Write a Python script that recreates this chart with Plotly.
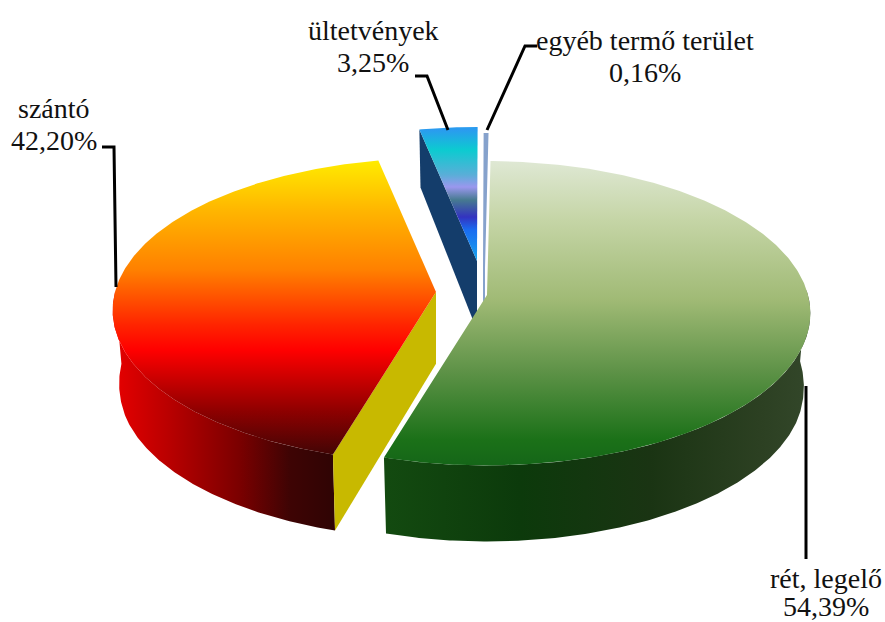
import numpy as np
import plotly.graph_objects as go

categories = ["rét, legelő", "szántó", "ültetvények", "egyéb termő terület"]
values = [54.39, 42.20, 3.25, 0.16]
value_labels = ["54,39%", "42,20%", "3,25%", "0,16%"]

# projection of the tilted pie (screen pixels)
ROT = 0.7
RX, RY, K = 321, 150, 0.12
BOTTOM_SCALE = 0.98
FONT = "Liberation Serif"
FS = 28

apex = {0: (487, 295), 1: (436, 292), 2: (477, 261), 3: (484, 268)}

top_grad = {
    0: [(158, "#e0e9d6"), (220, "#c5d5a6"), (300, "#a0ba75"), (370, "#5f9348"), (440, "#1b7118"), (465, "#156618")],
    1: [(160, "#ffec00"), (210, "#ffb600"), (270, "#ff8000"), (325, "#ff2400"), (350, "#ff0000"), (410, "#900000"), (458, "#3c0505")],
    2: [(130, "#2a9bef"), (150, "#0ccbd0"), (175, "#5aaed8"), (187, "#9a97ee"), (200, "#467a90"), (217, "#3333c0"), (230, "#1a6cf0"), (258, "#18a0ee")],
}
wall_grad = {
    0: [(385, "#134a10"), (520, "#0c3a0b"), (650, "#1a3413"), (760, "#2c4022"), (811, "#33472a")],
    1: [(112, "#e80000"), (170, "#b80000"), (240, "#7a0000"), (290, "#3e0404"), (332, "#300404")],
}
CUT_COLOR = {1: "#c8b900", 2: "#143d6b"}
SLIVER = "#86a2cc"


def rim(i, a0, a1):
    th = np.radians(np.arange(a0, a1, 0.5).tolist() + [a1])
    u, v = np.sin(th), -np.cos(th)
    s = 1 / (1 - K * v)
    return apex[i][0] + RX * u * s, apex[i][1] + RY * v * s


def depth(y):
    return np.minimum(76.0, 58 + (np.asarray(y, float) - 130) * 0.085)


def lower(i, x, y):
    cx = apex[i][0]
    return cx + (np.asarray(x) - cx) * BOTTOM_SCALE, np.asarray(y) + depth(y)


def make_grad(stops, kind):
    lo, hi = stops[0][0], stops[-1][0]
    return dict(type=kind, start=lo, stop=hi,
                colorscale=[[(p - lo) / (hi - lo), c] for p, c in stops])


def poly(x, y, color=None, gradient=None):
    kw = dict(x=list(x), y=list(y), mode="lines", fill="toself", line=dict(width=0),
              hoverinfo="skip", showlegend=False)
    if gradient:
        kw["fillgradient"] = gradient
    else:
        kw["fillcolor"] = color
    return go.Scatter(**kw)


bounds = ROT + np.concatenate([[0], np.cumsum(values)]) * 3.6
a = {i: (bounds[i], bounds[i + 1]) for i in range(4)}
traces = []

# ültetvények: cut face then top
x, y = rim(2, *a[2])
ax, ay = apex[2]
lx, ly = lower(2, [x[0], ax], [y[0], ay])
traces.append(poly([x[0], ax, lx[1], lx[0]], [y[0], ay, ly[1], ly[0]], CUT_COLOR[2]))
traces.append(poly([ax, *x], [ay, *y], gradient=make_grad(top_grad[2], "vertical")))

# egyéb termő terület: thin sliver with its cut face (the rest is hidden by the green slice)
x, y = rim(3, *a[3])
ax, ay = apex[3]
lx, ly = lower(3, [ax], [ay])
traces.append(poly([ax, *x, ax, lx[0]], [ay, *y, ay, ly[0]], SLIVER))
traces[-1].line = dict(width=2, color=SLIVER)

# szántó: wall, cut face, top
x, y = rim(1, a[1][0], 270)
lx, ly = lower(1, x, y)
traces.append(poly([*x, *lx[::-1]], [*y, *ly[::-1]], gradient=make_grad(wall_grad[1], "horizontal")))
ax, ay = apex[1]
lx2, ly2 = lower(1, [x[0], ax], [y[0], ay])
traces.append(poly([x[0], ax, lx2[1], lx2[0]], [y[0], ay, ly2[1], ly2[0]], CUT_COLOR[1]))
x, y = rim(1, *a[1])
traces.append(poly([ax, *x], [ay, *y], gradient=make_grad(top_grad[1], "vertical")))

# rét, legelő: wall, top
x, y = rim(0, 88, a[0][1])
lx, ly = lower(0, x, y)
traces.append(poly([*x, *lx[::-1]], [*y, *ly[::-1]], gradient=make_grad(wall_grad[0], "horizontal")))
x, y = rim(0, *a[0])
traces.append(poly([apex[0][0], *x], [apex[0][1], *y], gradient=make_grad(top_grad[0], "vertical")))

fig = go.Figure(traces)

leaders = [
    [(102, 147), (114, 147), (116, 287)],
    [(415, 76), (427, 76), (448, 130)],
    [(487, 130), (525, 46), (537, 46)],
    [(806, 386), (806, 559)],
]
for pts in leaders:
    path = "M" + " L".join(f"{px},{py}" for px, py in pts)
    fig.add_shape(type="path", path=path, line=dict(color="black", width=3), layer="above")

label_pos = {0: (826, 578, 606), 1: (54, 108, 140), 2: (373, 30, 62), 3: (645, 40, 72)}
for i, (cx, y1, y2) in label_pos.items():
    for txt, yy in ((categories[i], y1), (value_labels[i], y2)):
        fig.add_annotation(x=cx, y=yy, text=txt, showarrow=False, xanchor="center", yanchor="middle",
                           font=dict(family=FONT, size=FS, color="#111111"))

fig.update_layout(
    width=885, height=622, margin=dict(l=0, r=0, t=0, b=0),
    paper_bgcolor="white", plot_bgcolor="white", showlegend=False,
    xaxis=dict(range=[0, 885], visible=False, fixedrange=True),
    yaxis=dict(range=[622, 0], visible=False, fixedrange=True),
)
fig.write_html("out.html", config=dict(displayModeBar=False),
               post_script="document.body.style.margin='0';document.body.style.overflow='hidden';")
